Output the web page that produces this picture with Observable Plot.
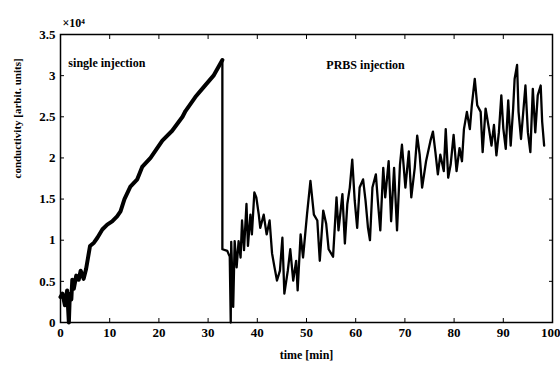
<!DOCTYPE html>
<html>
<head>
<meta charset="utf-8">
<script src="https://cdn.jsdelivr.net/npm/d3@7"></script>
<script src="https://cdn.jsdelivr.net/npm/@observablehq/plot@0.6"></script>
<style>
  html, body { margin: 0; padding: 0; background: #fff; }
  #chart { width: 560px; height: 365px; }
</style>
</head>
<body>
<div id="chart"></div>
<script>
// Single injection segment (time in min, conductivity in units of 10^4)
const singleTime = [0, 0.4, 0.9, 1.35, 1.7, 1.9, 2.2, 2.4, 2.7, 3.2, 3.7, 4.1, 4.7, 5.2, 5.6, 6.0, 6.8, 7.5, 8.5, 9.5, 10.5, 11.5, 12.2, 13.0, 14.2, 15.6, 16.6, 18.3, 20.7, 22.7, 24.8, 25.4, 27.4, 29.1, 31.1, 32.9];
const singleCond = [0.31, 0.35, 0.21, 0.39, 0, 0.35, 0.28, 0.52, 0.41, 0.57, 0.52, 0.63, 0.53, 0.65, 0.79, 0.93, 0.97, 1.03, 1.13, 1.19, 1.23, 1.29, 1.35, 1.5, 1.65, 1.74, 1.89, 2.0, 2.21, 2.33, 2.5, 2.57, 2.74, 2.86, 3.0, 3.19];

// PRBS injection segment
const prbsTime = [32.9, 32.9, 33.9, 34.4, 34.6, 34.7, 35.1, 35.4, 35.8, 36.2, 36.6, 36.9, 37.3, 37.8, 38.1, 38.6, 38.9, 39.4, 39.8, 40.3, 40.6, 41.3, 41.9, 42.5, 43.0, 43.5, 44.0, 44.6, 45.1, 45.5, 46.2, 46.7, 47.3, 47.9, 48.2, 48.8, 49.3, 50.1, 50.8, 51.5, 52.2, 52.7, 53.4, 54.0, 54.5, 55.4, 56.1, 56.5, 57.3, 57.8, 58.3, 58.8, 59.3, 59.8, 60.3, 60.8, 61.5, 62.0, 62.5, 62.9, 63.4, 64.1, 64.5, 65.0, 65.6, 66.0, 66.7, 67.2, 67.8, 68.4, 69.0, 69.4, 70.1, 70.8, 71.3, 72.0, 72.5, 73.0, 73.5, 74.3, 75.2, 75.7, 76.2, 76.7, 77.2, 77.9, 78.3, 78.8, 79.3, 79.9, 80.5, 81.1, 81.6, 82.0, 82.6, 83.2, 83.6, 84.2, 84.7, 85.4, 85.8, 86.4, 87.1, 87.6, 88.1, 88.6, 89.1, 89.6, 90.0, 90.5, 91.0, 91.5, 92.0, 92.3, 92.8, 93.1, 93.6, 94.5, 95.0, 95.5, 96.0, 96.5, 97.0, 97.6, 97.9, 98.3];
const prbsCond = [3.19, 0.89, 0.87, 0.8, 0, 0.98, 0.19, 0.99, 0.67, 0.99, 0.79, 1.24, 0.88, 1.44, 0.93, 1.31, 1.07, 1.58, 1.52, 1.31, 1.15, 1.31, 1.07, 1.24, 0.84, 0.67, 0.51, 0.63, 1.03, 0.35, 0.63, 0.89, 0.51, 0.75, 0.39, 1.07, 0.79, 1.31, 1.72, 1.31, 1.24, 0.75, 1.36, 1.2, 0.89, 0.8, 1.52, 1.12, 1.56, 0.96, 1.44, 1.64, 1.98, 1.48, 1.15, 1.64, 1.74, 1.48, 1.15, 1.0, 1.64, 1.8, 1.48, 1.12, 1.88, 1.52, 1.96, 1.23, 1.88, 1.12, 1.92, 2.16, 1.64, 2.08, 1.52, 1.88, 2.27, 2.04, 1.64, 1.96, 2.21, 2.32, 2.07, 1.8, 2.04, 1.84, 2.35, 1.76, 1.92, 2.28, 1.84, 2.12, 1.96, 2.35, 2.56, 2.35, 2.64, 2.96, 2.64, 2.56, 2.07, 2.6, 2.35, 2.15, 2.4, 2.03, 2.31, 2.76, 2.36, 2.11, 2.7, 2.15, 2.6, 2.96, 3.13, 2.56, 2.23, 2.88, 2.31, 2.07, 2.84, 2.31, 2.76, 2.88, 2.44, 2.15];

const xTicks = [0, 10, 20, 30, 40, 50, 60, 70, 80, 90];
const xLastTick = [100];
const yTicks = [0, 0.5, 1, 1.5, 2, 2.5, 3, 3.5];
const yTickLabels = ["0", "0.5", "1", "1.5", "2", "2.5", "3", "3.5"];

const singleData = singleTime.map((t, i) => ({t, v: singleCond[i]}));
const prbsData = prbsTime.map((t, i) => ({t, v: prbsCond[i]}));

const font = "Liberation Serif";

const chart = Plot.plot({
  width: 560,
  height: 365,
  marginLeft: 60,
  marginRight: 8,
  marginTop: 34,
  marginBottom: 43,
  style: {fontFamily: font, fontSize: "13px", fontWeight: "bold", color: "black", background: "white"},
  x: {domain: [0, 100]},
  y: {domain: [0, 3.5]},
  marks: [
    Plot.line(singleData, {x: "t", y: "v", stroke: "black", strokeWidth: 4, strokeLinejoin: "round"}),
    Plot.line(prbsData, {x: "t", y: "v", stroke: "black", strokeWidth: 2.3, strokeLinejoin: "round"}),
    Plot.frame({stroke: "black", strokeWidth: 1.5}),
    Plot.axisX({anchor: "bottom", ticks: xTicks, tickSize: -4, tickPadding: 9, label: null, fontSize: 13}),
    Plot.axisX({anchor: "bottom", ticks: xLastTick, tickSize: -4, tickPadding: 9, label: null, fontSize: 13, textAnchor: "end", dx: 8}),
    Plot.axisX({anchor: "top", ticks: [...xTicks, ...xLastTick], tickSize: -4, tickFormat: () => "", label: null}),
    Plot.axisY({anchor: "left", ticks: yTicks, tickSize: -4, tickPadding: 9, label: null, fontSize: 13,
      tickFormat: d => yTickLabels[yTicks.indexOf(d)]}),
    Plot.axisY({anchor: "right", ticks: yTicks, tickSize: -4, tickFormat: () => "", label: null}),
    Plot.text(["single injection"], {x: 1.6, y: 3.15, textAnchor: "start", fontSize: 12, fontWeight: "bold"}),
    Plot.text(["PRBS injection"], {x: 62, y: 3.13, textAnchor: "middle", fontSize: 12, fontWeight: "bold"}),
    Plot.text(["×10⁴"], {frameAnchor: "top-left", dx: 2, dy: -16, textAnchor: "start", fontSize: 12}),
    Plot.text(["time [min]"], {frameAnchor: "bottom", dy: 36, fontSize: 12}),
    Plot.text(["conductivity [arbit. units]"], {frameAnchor: "left", dx: -43, rotate: -90, fontSize: 11})
  ]
});
document.getElementById("chart").appendChild(chart);
</script>
</body>
</html>
